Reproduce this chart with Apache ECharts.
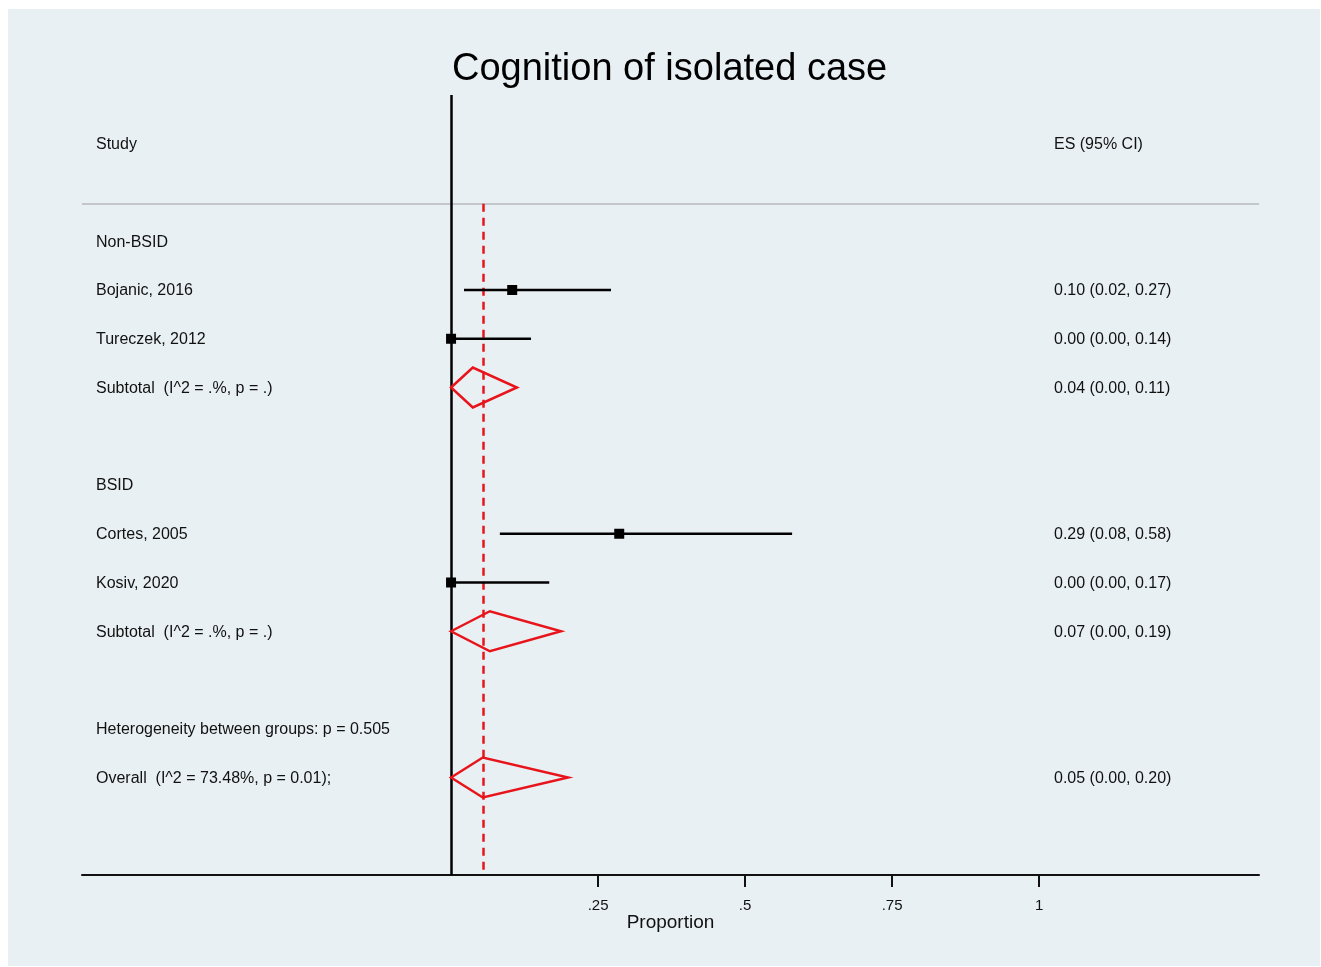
<!DOCTYPE html>
<html><head><meta charset="utf-8">
<script src="https://cdn.jsdelivr.net/npm/echarts@6/dist/echarts.min.js"></script>
<style>html,body{margin:0;padding:0;background:#fff}#c{width:1321px;height:967px}</style>
</head><body><div id="c"></div>
<script>
// ---- data ----
const studyLabels = ['Bojanic, 2016', 'Tureczek, 2012', 'Cortes, 2005', 'Kosiv, 2020'];
const studyRows = [3, 4, 8, 9];
const studyES = [0.104, 0.0, 0.286, 0.0];
const studyLo = [0.022, 0.0, 0.083, 0.0];
const studyHi = [0.272, 0.136, 0.580, 0.167];
const studyText = ['0.10 (0.02, 0.27)', '0.00 (0.00, 0.14)', '0.29 (0.08, 0.58)', '0.00 (0.00, 0.17)'];

const poolLabels = ['Subtotal  (I^2 = .%, p = .)', 'Subtotal  (I^2 = .%, p = .)', 'Overall  (I^2 = 73.48%, p = 0.01);'];
const poolRows = [5, 10, 13];
const poolES = [0.037, 0.066, 0.054];
const poolLo = [0.0, 0.0, 0.0];
const poolHi = [0.112, 0.187, 0.199];
const poolText = ['0.04 (0.00, 0.11)', '0.07 (0.00, 0.19)', '0.05 (0.00, 0.20)'];

const headerLabels = ['Study', 'Non-BSID', 'BSID', 'Heterogeneity between groups: p = 0.505'];
const headerRows = [0, 2, 7, 12];
const esHeader = 'ES (95% CI)';
const overallES = 0.054;
const tickValues = [0.25, 0.5, 0.75, 1];
const tickLabels = ['.25', '.5', '.75', '1'];

// ---- chart ----
const chart = echarts.init(document.getElementById('c'));
const FONT = 'Liberation Sans, Arial, Helvetica, sans-serif';
const TXT = {fill: '#111', font: '16px ' + FONT, textVerticalAlign: 'middle', verticalAlign: 'middle'};

const leftText = [];
headerRows.forEach((r, i) => leftText.push([r, headerLabels[i]]));
studyRows.forEach((r, i) => leftText.push([r, studyLabels[i]]));
poolRows.forEach((r, i) => leftText.push([r, poolLabels[i]]));
const rightText = [[0, esHeader]];
studyRows.forEach((r, i) => rightText.push([r, studyText[i]]));
poolRows.forEach((r, i) => rightText.push([r, poolText[i]]));

chart.setOption({
  backgroundColor: '#ffffff',
  animation: false,
  graphic: [{type: 'rect', z: -10, shape: {x: 8, y: 9, width: 1312, height: 957}, style: {fill: '#e9f0f3'}}],
  title: {text: 'Cognition of isolated case', left: 447, top: 46,
    textStyle: {fontFamily: FONT, fontSize: 38, fontWeight: 'normal', color: '#000'}},
  grid: {left: 82, right: 62, top: 95, bottom: 92},
  xAxis: {type: 'value', min: -0.6276, max: 1.374,
    name: 'Proportion', nameLocation: 'middle', nameGap: 38, nameMoveOverlap: false,
    nameTextStyle: {fontFamily: FONT, fontSize: 19, color: '#111'},
    axisLine: {show: true, onZero: false, lineStyle: {color: '#111', width: 2}},
    axisTick: {show: true, length: 12, lineStyle: {color: '#111', width: 2}, customValues: tickValues},
    axisLabel: {show: true, margin: 23, fontFamily: FONT, fontSize: 15, color: '#111', customValues: tickValues,
      formatter: v => { const i = tickValues.findIndex(t => Math.abs(t - v) < 1e-9); return i >= 0 ? tickLabels[i] : ''; }},
    splitLine: {show: false}},
  yAxis: {type: 'value', min: -1, max: 15, inverse: true, show: false, splitLine: {show: false}},
  series: [
    { // reference lines
      type: 'line', data: [], silent: true,
      markLine: {symbol: 'none', silent: true, label: {show: false}, data: [
        [{coord: [-0.6276, 1.23], lineStyle: {color: '#c3c7ca', width: 2, type: 'solid'}}, {coord: [1.374, 1.23]}],
        [{coord: [0, -1], lineStyle: {color: '#000', width: 2.5, type: 'solid'}}, {coord: [0, 15]}],
        [{coord: [overallES, 1.23], lineStyle: {color: '#e8141b', width: 2.5, type: [8, 6]}}, {coord: [overallES, 15]}]
      ]}
    },
    { // study CIs
      type: 'custom', silent: true, z: 5,
      data: studyRows.map((r, i) => [studyES[i], r, studyLo[i], studyHi[i]]),
      renderItem: (params, api) => {
        const c = api.coord([api.value(0), api.value(1)]);
        const l = api.coord([api.value(2), api.value(1)]);
        const h = api.coord([api.value(3), api.value(1)]);
        return {type: 'group', children: [
          {type: 'line', shape: {x1: l[0], y1: l[1], x2: h[0], y2: h[1]}, style: {stroke: '#000', lineWidth: 2.5}},
          {type: 'rect', shape: {x: c[0] - 5, y: c[1] - 5, width: 10, height: 10}, style: {fill: '#000'}}
        ]};
      }
    },
    { // pooled diamonds
      type: 'custom', silent: true, z: 5,
      data: poolRows.map((r, i) => [poolES[i], r, poolLo[i], poolHi[i]]),
      renderItem: (params, api) => {
        const c = api.coord([api.value(0), api.value(1)]);
        const l = api.coord([api.value(2), api.value(1)]);
        const h = api.coord([api.value(3), api.value(1)]);
        const hh = 20;
        return {type: 'polygon', shape: {points: [[l[0], l[1]], [c[0], c[1] - hh], [h[0], h[1]], [c[0], c[1] + hh]]},
          style: {fill: 'none', stroke: '#e8141b', lineWidth: 2.5, lineJoin: 'miter'}};
      }
    },
    { // left text column
      type: 'custom', silent: true, z: 6, data: leftText.map(d => [d[0]]),
      renderItem: (params, api) => {
        const y = api.coord([0, api.value(0)])[1] + 1;
        return {type: 'text', x: params.coordSys.x + 14, y: y,
          style: Object.assign({text: leftText[params.dataIndex][1], textAlign: 'left', align: 'left'}, TXT)};
      }
    },
    { // right text column
      type: 'custom', silent: true, z: 6, data: rightText.map(d => [d[0]]),
      renderItem: (params, api) => {
        const y = api.coord([0, api.value(0)])[1] + 1;
        return {type: 'text', x: params.coordSys.x + 972, y: y,
          style: Object.assign({text: rightText[params.dataIndex][1], textAlign: 'left', align: 'left'}, TXT)};
      }
    }
  ]
});
</script></body></html>
